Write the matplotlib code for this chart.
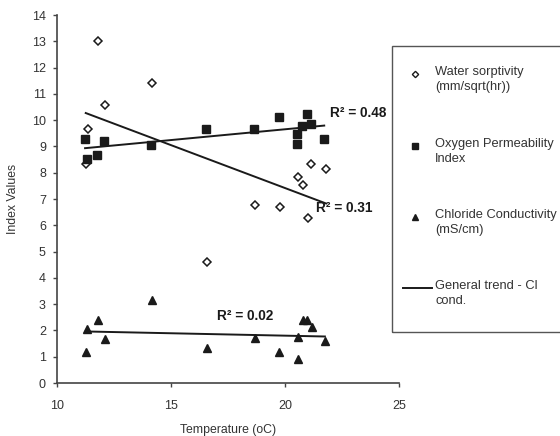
import numpy as np
import matplotlib
matplotlib.use('Agg')
import matplotlib.pyplot as plt
from matplotlib.lines import Line2D
from matplotlib.patches import Rectangle

plt.rcParams['font.family'] = ['Liberation Sans', 'DejaVu Sans']

# Water sorptivity (mm/sqrt(hr))
water_temp = [11.26, 11.37, 12.1, 11.78, 14.18, 16.57, 18.68, 19.78, 21.0, 20.58, 20.8, 21.15, 21.8]
water_val = [8.35, 9.66, 10.57, 13.0, 11.4, 4.61, 6.77, 6.68, 6.26, 7.84, 7.52, 8.35, 8.13]

# Oxygen Permeability Index
opi_temp = [11.23, 12.08, 11.33, 11.74, 14.14, 16.52, 18.66, 19.74, 20.95, 20.76, 21.13, 20.53, 20.53, 21.72]
opi_val = [9.27, 9.21, 8.54, 8.68, 9.07, 9.65, 9.67, 10.11, 10.25, 9.78, 9.84, 9.49, 9.09, 9.29]

# Chloride Conductivity (mS/cm)
cl_temp = [11.33, 11.78, 12.1, 11.26, 14.18, 16.57, 18.68, 19.75, 20.55, 20.55, 20.77, 20.98, 21.17, 21.75]
cl_val = [2.06, 2.40, 1.66, 1.19, 3.16, 1.32, 1.72, 1.19, 0.92, 1.76, 2.40, 2.40, 2.14, 1.60]

r2_labels = ['R\u00b2 = 0.48', 'R\u00b2 = 0.31', 'R\u00b2 = 0.02']

W, H = 560, 436
fig = plt.figure(figsize=(W / 100, H / 100), dpi=100)
ax = fig.add_axes([57 / W, 1 - 383 / H, (399 - 57) / W, (383 - 15) / H])

ink = '#1a1a1a'

ax.plot(water_temp, water_val, 'D', ms=3.8, mfc='white', mec=ink, mew=1.1, ls='none')
ax.plot(opi_temp, opi_val, 's', ms=5.2, mfc=ink, mec=ink, ls='none')
ax.plot(cl_temp, cl_val, '^', ms=5.5, mfc=ink, mec=ink, ls='none')

# linear trend lines
for xs, ys in [(water_temp, water_val), (opi_temp, opi_val), (cl_temp, cl_val)]:
    xs = np.array(xs)
    k, b = np.polyfit(xs, ys, 1)
    xx = np.array([xs.min(), xs.max()])
    ax.plot(xx, k * xx + b, color=ink, lw=1.4)

ax.text(21.97, 10.27, r2_labels[0], fontsize=9.8, fontweight='bold', color=ink, va='center')
ax.text(21.36, 6.65, r2_labels[1], fontsize=9.8, fontweight='bold', color=ink, va='center')
ax.text(17.02, 2.55, r2_labels[2], fontsize=9.8, fontweight='bold', color=ink, va='center')

ax.set_xlim(10, 25)
ax.set_ylim(0, 14)
ax.set_xticks([10, 15, 20, 25])
ax.set_yticks(range(0, 15))
ax.spines['top'].set_visible(False)
ax.spines['right'].set_visible(False)
for s in ['left', 'bottom']:
    ax.spines[s].set_color('#444444')
    ax.spines[s].set_linewidth(1.2)
ax.tick_params(direction='out', length=3, width=1, colors='#444444',
               labelsize=9, labelcolor='#333333')
ax.tick_params(axis='x', pad=9)
ax.tick_params(axis='y', pad=5)
ax.set_xlabel('Temperature (oC)', fontsize=8.8, color='#333333', labelpad=9)
ax.set_ylabel('Index Values', fontsize=8.8, color='#333333', labelpad=9)

# legend box drawn by hand so markers sit on the first text line
fig.patches.append(Rectangle((392 / W, 1 - 332 / H), 200 / W, (332 - 46) / H,
                             transform=fig.transFigure, fill=False,
                             ec='#555555', lw=1.0))
entries = [
    ('D', 'Water sorptivity\n(mm/sqrt(hr))', 74),
    ('s', 'Oxygen Permeability\nIndex', 146),
    ('^', 'Chloride Conductivity\n(mS/cm)', 217),
    ('-', 'General trend - Cl\ncond.', 288),
]
for mk, label, ypix in entries:
    yf = 1 - ypix / H
    if mk == '-':
        fig.lines.append(Line2D([403 / W, 432 / W], [yf, yf], transform=fig.transFigure,
                                color=ink, lw=1.4))
    elif mk == 'D':
        fig.lines.append(Line2D([415 / W], [yf], transform=fig.transFigure, marker='D',
                                ms=3.2, mfc='white', mec=ink, mew=1.0))
    else:
        fig.lines.append(Line2D([415 / W], [yf], transform=fig.transFigure, marker=mk,
                                ms=4.2, mfc=ink, mec=ink))
    fig.text(435 / W, yf + 8 / H, label, fontsize=9.3, color='#333333',
             va='top', ha='left', linespacing=1.3)

fig.savefig('out.png', dpi=100, facecolor='white')
